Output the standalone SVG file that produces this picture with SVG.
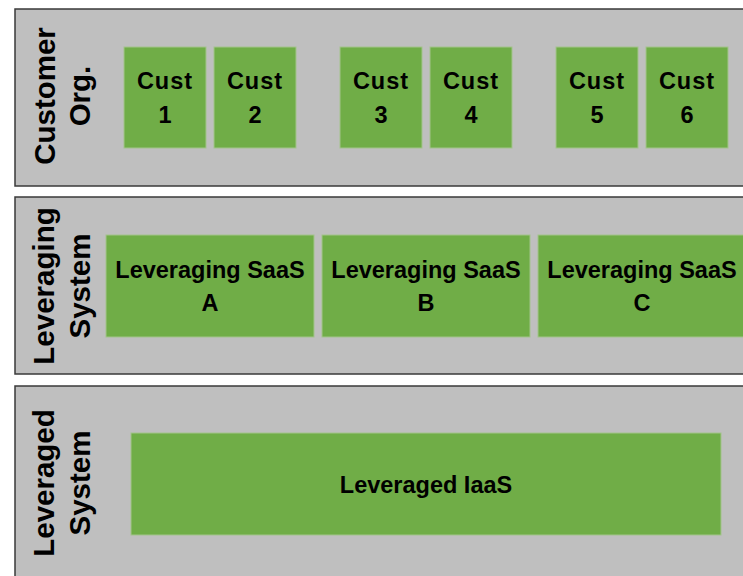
<svg xmlns="http://www.w3.org/2000/svg" width="743" height="576" viewBox="0 0 743 576">
<style>
.panel{fill:#bfbfbf;stroke:#3a3a3a;stroke-width:1.5}
.box{fill:#70ad47;stroke:#a3c48c;stroke-width:1}
text{font-family:"Liberation Sans",Arial,sans-serif;font-weight:bold;fill:#000;text-anchor:middle}
.t{font-size:23.5px}
.c{font-size:23.5px;letter-spacing:1px}
.lab{font-size:29.5px}
</style>
<rect width="743" height="576" fill="#ffffff"/>
<g id="panel-customer">
<rect class="panel" x="15" y="9" width="740" height="177"/>
<text class="lab" transform="translate(55,96) rotate(-90)">Customer</text>
<text class="lab" transform="translate(90,96) rotate(-90)">Org.</text>
</g>
<g id="panel-leveraging">
<rect class="panel" x="15" y="197" width="740" height="177"/>
<text class="lab" transform="translate(54,286) rotate(-90)">Leveraging</text>
<text class="lab" transform="translate(90,286) rotate(-90)">System</text>
</g>
<g id="panel-leveraged">
<rect class="panel" x="15" y="386" width="740" height="200"/>
<text class="lab" transform="translate(54,483) rotate(-90)">Leveraged</text>
<text class="lab" transform="translate(90,483) rotate(-90)">System</text>
</g>
<g id="cust1"><rect class="box" x="124" y="47" width="82" height="101"/><text class="c" x="165" y="89">Cust</text><text class="t" x="165" y="123">1</text></g>
<g id="cust2"><rect class="box" x="214" y="47" width="82" height="101"/><text class="c" x="255" y="89">Cust</text><text class="t" x="255" y="123">2</text></g>
<g id="cust3"><rect class="box" x="340" y="47" width="82" height="101"/><text class="c" x="381" y="89">Cust</text><text class="t" x="381" y="123">3</text></g>
<g id="cust4"><rect class="box" x="430" y="47" width="82" height="101"/><text class="c" x="471" y="89">Cust</text><text class="t" x="471" y="123">4</text></g>
<g id="cust5"><rect class="box" x="556" y="47" width="82" height="101"/><text class="c" x="597" y="89">Cust</text><text class="t" x="597" y="123">5</text></g>
<g id="cust6"><rect class="box" x="646" y="47" width="82" height="101"/><text class="c" x="687" y="89">Cust</text><text class="t" x="687" y="123">6</text></g>
<g id="saas-a"><rect class="box" x="106" y="235" width="208" height="102"/><text class="t" x="210" y="278">Leveraging SaaS</text><text class="t" x="210" y="311">A</text></g>
<g id="saas-b"><rect class="box" x="322" y="235" width="208" height="102"/><text class="t" x="426" y="278">Leveraging SaaS</text><text class="t" x="426" y="311">B</text></g>
<g id="saas-c"><rect class="box" x="538" y="235" width="208" height="102"/><text class="t" x="642" y="278">Leveraging SaaS</text><text class="t" x="642" y="311">C</text></g>
<g id="iaas"><rect class="box" x="131" y="433" width="590" height="102"/><text class="t" x="426" y="493">Leveraged IaaS</text></g>
<g id="connectors"></g>
</svg>
